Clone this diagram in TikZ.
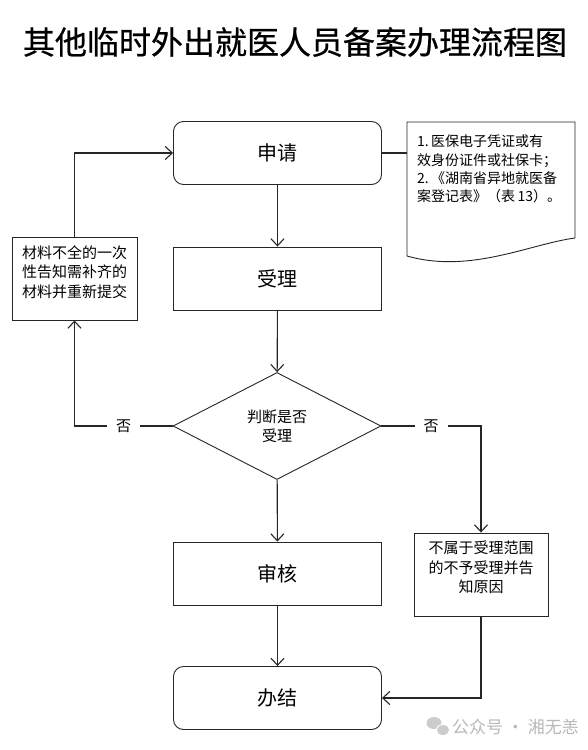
\documentclass[tikz,border=0pt]{standalone}
\usepackage{fontspec}
\setmainfont{Noto Sans CJK SC}
\newfontfamily\titlefont{Noto Sans CJK SC}[FakeBold=0.6]
\usetikzlibrary{arrows.meta,shapes.geometric}
\begin{document}
\begin{tikzpicture}[x=1pt,y=-1pt,
  conn/.style={draw=black!85, line width=1.1pt},
  flow/.style={conn, -{Straight Barb[length=7pt,width=13pt,line width=1.1pt]}},
  proc/.style={draw=black!85, line width=0.9pt, minimum width=208pt, minimum height=63pt, inner sep=0pt, font=\fontsize{20}{24}\selectfont},
  term/.style={proc, rounded corners=10pt},
  note/.style={draw=black!85, line width=0.9pt, inner sep=0pt},
  small/.style={inner sep=0pt, align=center, font=\fontsize{15}{19.3}\selectfont},
  nolabel/.style={fill=white, inner xsep=9pt, inner ysep=2pt, font=\fontsize{15}{18}\selectfont}
]
\useasboundingbox[fill=white] (0,0) rectangle (588,750);

% title
\node[font=\titlefont\fontsize{32}{36}\selectfont, inner sep=0pt] (title) at (295,42) {其他临时外出就医人员备案办理流程图};

% main column
\node[term] (apply) at (277.5,153) {申请};
\node[proc] (accept) at (277.5,278.5) {受理};
\node[draw=black!85, line width=0.9pt, diamond, minimum width=208pt, minimum height=107pt, inner sep=0pt, align=center, font=\fontsize{15}{19}\selectfont] (judge) at (277,426) {判断是否\\受理};
\node[proc] (review) at (277.5,573.5) {审核};
\node[term] (finish) at (277.5,698) {办结};

% left box
\node[note, minimum width=125pt, minimum height=83pt] (incomplete) at (74.5,278.5) {};
\node[small] (incompleteT) at (74.5,272) {材料不全的一次\\性告知需补齐的\\材料并重新提交};

% right box
\node[note, minimum width=134pt, minimum height=83pt] (reject) at (481,574.5) {};
\node[small] (rejectT) at (481,567.5) {不属于受理范围\\的不予受理并告\\知原因};

% document shape
\draw[draw=black!85, line width=0.9pt] (407,122) -- (575,122) -- (575,238)
  .. controls (530,244) and (470,274) .. (407,256) -- cycle;
\coordinate (docL) at (407,153);
\node[inner sep=0pt, align=left, anchor=north west, font=\fontsize{14}{18.3}\selectfont] (doc) at (417,135)
  {1.\,医保电子凭证或有\\效身份证件或社保卡；\\2.\,《湖南省异地就医备\\案登记表》（表\,13）。};

% connectors
\draw[conn] (apply.east) -- (docL);
\draw[flow] (apply) -- (accept);
\draw[flow] (accept) -- (judge);
\draw[flow] (judge) -- (review);
\draw[flow] (review) -- (finish);
\draw[flow] (judge.west) -| (incomplete.south) node[pos=0.25, nolabel] (no1) {否};
\draw[flow] (incomplete.north) |- (apply.west);
\draw[flow] (judge.east) -| (reject.north) node[pos=0.25, nolabel] (no2) {否};
\draw[flow] (reject.south) |- (finish.east);

% watermark
\fill[gray!40] (434,723) ellipse (7.5pt and 6pt);
\fill[white] (443,730) ellipse (7pt and 6pt);
\fill[gray!40] (443,730) ellipse (6pt and 5pt);
\node[text=gray!55, font=\fontsize{17}{20}\selectfont, inner sep=0pt, anchor=west] (wm) at (452,727) {公众号 · 湘无恙};
\end{tikzpicture}
\end{document}
